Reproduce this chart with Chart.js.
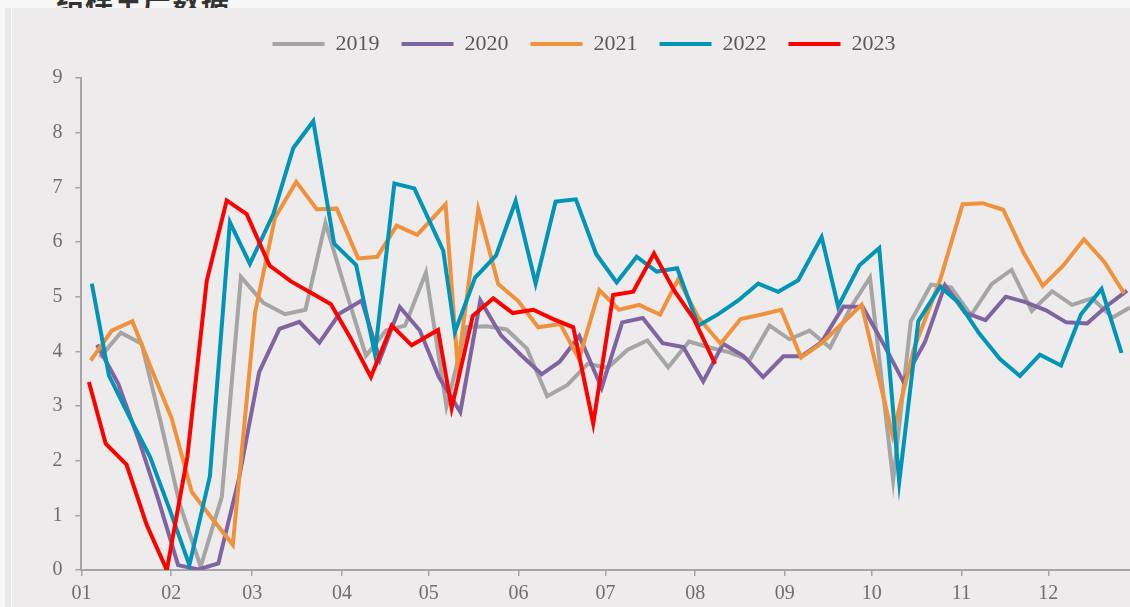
<!DOCTYPE html>
<html>
<head>
<meta charset="utf-8">
<script src="https://cdn.jsdelivr.net/npm/chart.js@4.4.1/dist/chart.umd.min.js"></script>
<style>
    html, body { margin: 0; padding: 0; width: 1130px; height: 607px; overflow: hidden; background: #f7f7f7; }
    .side { position: absolute; left: 5px; top: 8px; width: 6px; height: 599px; background: #e8e8e8; }
    .title { position: absolute; left: 56px; top: -21px; font: bold 28px "Noto Sans CJK SC"; color: #333; letter-spacing: 1px; white-space: nowrap; }
    .panel { position: absolute; left: 12px; top: 8px; width: 1144px; height: 599px; background: #edebec; }
</style>
</head>
<body>
<div class="title">结样生产数据</div>
<div class="side"></div>
<div class="panel"><canvas id="weeklyChart" width="1144" height="599"></canvas></div>
<script>
/* ==============================
   weekly data, x = day of year
   ============================== */

const monthStartDays = [0, 31, 59, 90, 120, 151, 181, 212, 243, 273, 304, 334];
const monthLabels = ['01', '02', '03', '04', '05', '06', '07', '08', '09', '10', '11', '12'];

const days2019 = [6.4, 13.6, 20.8, 27.2, 34.0, 41.2, 48.5, 55.1, 62.8, 70.3, 77.4, 84.3, 91.1, 98.3, 105.2, 111.8, 119.0, 126.1, 133.0, 139.9, 146.9, 153.9, 160.9, 167.8, 174.9, 181.8, 188.7, 195.5, 202.7, 209.9, 217.0, 223.9, 230.8, 237.7, 244.6, 251.5, 258.6, 265.5, 272.4, 280.4, 286.5, 293.5, 300.4, 307.3, 314.4, 321.3, 328.3, 335.3, 342.2, 349.1, 356.2, 362.2];
const vals2019 = [3.89, 4.34, 4.14, 2.75, 1.2, 0.06, 1.34, 5.36, 4.89, 4.68, 4.76, 6.35, 5.15, 3.92, 4.38, 4.47, 5.44, 2.99, 4.44, 4.46, 4.40, 4.05, 3.18, 3.38, 3.77, 3.70, 4.03, 4.20, 3.71, 4.18, 4.07, 3.98, 3.84, 4.47, 4.22, 4.38, 4.07, 4.78, 5.35, 1.64, 4.55, 5.22, 5.17, 4.66, 5.23, 5.49, 4.74, 5.10, 4.85, 4.97, 4.62, 4.80];

const days2020 = [5.4, 12.7, 20.2, 26.5, 33.4, 40.4, 47.3, 54.3, 61.4, 68.4, 75.3, 82.2, 89.2, 96.8, 103.1, 110.0, 116.9, 123.5, 130.9, 137.8, 145.0, 152.1, 159.0, 165.2, 172.0, 179.7, 186.8, 193.9, 200.8, 207.9, 214.8, 221.7, 228.6, 235.5, 242.5, 248.8, 255.7, 263.2, 269.9, 277.0, 283.9, 291.4, 298.3, 305.2, 312.3, 319.3, 326.1, 333.2, 340.2, 347.4, 354.2, 361.2];
const vals2020 = [4.12, 3.41, 2.32, 1.3, 0.09, 0.01, 0.12, 1.64, 3.62, 4.41, 4.54, 4.16, 4.69, 4.93, 3.85, 4.81, 4.38, 3.53, 2.89, 4.93, 4.29, 3.92, 3.58, 3.81, 4.28, 3.33, 4.53, 4.61, 4.15, 4.08, 3.45, 4.14, 3.92, 3.53, 3.91, 3.91, 4.17, 4.82, 4.81, 4.14, 3.45, 4.17, 5.21, 4.71, 4.57, 5.0, 4.90, 4.75, 4.53, 4.51, 4.83, 5.11];

const days2021 = [3.2, 10.5, 17.6, 24.4, 31.2, 38.1, 45.6, 52.3, 60.0, 66.9, 74.2, 81.3, 88.2, 95.6, 102.2, 108.9, 116.0, 125.8, 130.0, 137.1, 144.0, 150.9, 157.8, 165.4, 171.9, 178.9, 185.7, 192.7, 199.9, 206.2, 213.1, 220.8, 227.7, 234.6, 241.7, 248.6, 255.7, 262.6, 269.5, 280.2, 287.6, 296.6, 304.4, 311.3, 318.4, 325.4, 332.1, 339.2, 346.3, 353.3, 360.2];
const vals2021 = [3.83, 4.38, 4.55, 3.65, 2.77, 1.43, 0.91, 0.46, 4.71, 6.45, 7.10, 6.60, 6.61, 5.70, 5.73, 6.30, 6.13, 6.69, 3.71, 6.60, 5.23, 4.92, 4.44, 4.50, 3.86, 5.12, 4.76, 4.85, 4.67, 5.32, 4.62, 4.14, 4.59, 4.67, 4.76, 3.89, 4.15, 4.50, 4.85, 2.46, 4.05, 5.30, 6.69, 6.71, 6.59, 5.81, 5.20, 5.57, 6.05, 5.64, 5.06];

const days2022 = [3.6, 9.5, 16.6, 23.7, 30.6, 37.3, 44.4, 51.3, 58.2, 66.3, 73.2, 80.1, 87.3, 94.9, 101.4, 108.1, 115.0, 125.0, 129.0, 136.0, 143.2, 150.0, 156.9, 163.8, 170.8, 177.8, 184.9, 191.8, 198.7, 205.8, 213.1, 220.0, 226.9, 233.8, 240.7, 247.6, 255.7, 261.4, 268.7, 275.6, 282.5, 289.1, 296.6, 302.9, 310.1, 317.3, 324.2, 331.1, 338.4, 345.3, 352.4, 359.3];
const vals2022 = [5.24, 3.56, 2.80, 2.07, 1.09, 0.09, 1.72, 6.36, 5.60, 6.51, 7.72, 8.21, 5.97, 5.58, 3.95, 7.07, 6.98, 5.84, 4.35, 5.35, 5.75, 6.75, 5.24, 6.74, 6.78, 5.78, 5.26, 5.73, 5.46, 5.52, 4.47, 4.68, 4.93, 5.24, 5.09, 5.30, 6.09, 4.82, 5.57, 5.89, 1.61, 4.55, 5.18, 4.90, 4.33, 3.86, 3.55, 3.94, 3.74, 4.68, 5.14, 3.97];

const days2023 = [2.6, 8.4, 15.6, 22.6, 29.5, 36.6, 43.3, 50.2, 57.1, 65.0, 72.4, 79.3, 86.2, 92.8, 100.0, 107.2, 114.1, 123.2, 127.9, 135.2, 142.3, 149.0, 156.1, 163.0, 169.9, 176.8, 183.7, 190.6, 197.8, 204.8, 211.6, 218.9];
const vals2023 = [3.44, 2.31, 1.93, 0.82, 0, 2.07, 5.29, 6.76, 6.51, 5.57, 5.28, 5.07, 4.86, 4.26, 3.53, 4.47, 4.11, 4.39, 2.96, 4.65, 4.97, 4.70, 4.76, 4.59, 4.44, 2.68, 5.03, 5.09, 5.79, 5.11, 4.59, 3.77];

const AXIS_GREY = '#a6a6a6';
const FONT = 'Liberation Serif';

function toPoints(days, vals) {
    return days.map((d, i) => ({ x: d, y: vals[i] }));
}

function lineSet(label, days, vals, color, order) {
    return {
        label,
        data: toPoints(days, vals),
        borderColor: color,
        backgroundColor: color,
        borderWidth: 4,
        pointRadius: 0,
        tension: 0,
        fill: false,
        order,
    };
}

// extra room under the legend so the plot starts lower
const legendSpacer = {
    id: 'legendSpacer',
    beforeLayout(chart) {
        const legend = chart.legend;
        if (!legend || legend._spaced) return;
        const fit = legend.fit;
        legend.fit = function () { fit.call(this); this.height += 13; };
        legend._spaced = true;
    }
};

new Chart(document.getElementById('weeklyChart'), {
    type: 'line',
    data: {
        datasets: [
            lineSet('2019', days2019, vals2019, '#a5a5a5', 4),
            lineSet('2020', days2020, vals2020, '#8064a2', 3),
            lineSet('2021', days2021, vals2021, '#f0923c', 2),
            lineSet('2022', days2022, vals2022, '#0094b6', 1),
            lineSet('2023', days2023, vals2023, '#ff0000', 0),
        ]
    },
    plugins: [legendSpacer],
    options: {
        responsive: false,
        animation: false,
        layout: { padding: { top: 3, left: 0, right: 0, bottom: 0 } },
        plugins: {
            tooltip: { enabled: false },
            legend: {
                position: 'top',
                labels: {
                    usePointStyle: true,
                    pointStyle: 'line',
                    pointStyleWidth: 52,
                    padding: 22,
                    color: '#595959',
                    font: { family: FONT, size: 22 },
                    sort: (a, b) => a.datasetIndex - b.datasetIndex,
                }
            }
        },
        scales: {
            x: {
                type: 'linear',
                min: 0,
                max: 371.2,
                afterBuildTicks: scale => { scale.ticks = monthStartDays.map(v => ({ value: v })); },
                afterFit: scale => { scale.height = 37; },
                grid: { drawOnChartArea: false, drawTicks: true, tickLength: 6, color: AXIS_GREY, lineWidth: 1.5 },
                border: { display: true, color: AXIS_GREY, width: 2 },
                ticks: {
                    autoSkip: false,
                    maxRotation: 0,
                    padding: 6,
                    color: '#6e6e6e',
                    font: { family: FONT, size: 20 },
                    callback: (v, i) => monthLabels[i]
                }
            },
            y: {
                min: 0,
                max: 9,
                afterFit: scale => { scale.width = 69.4; },
                grid: { drawOnChartArea: false, drawTicks: true, tickLength: 6, color: AXIS_GREY, lineWidth: 1.5 },
                border: { display: true, color: AXIS_GREY, width: 2 },
                ticks: {
                    stepSize: 1,
                    padding: 13,
                    color: '#6e6e6e',
                    font: { family: FONT, size: 20 }
                }
            }
        }
    }
});
</script>
</body>
</html>
